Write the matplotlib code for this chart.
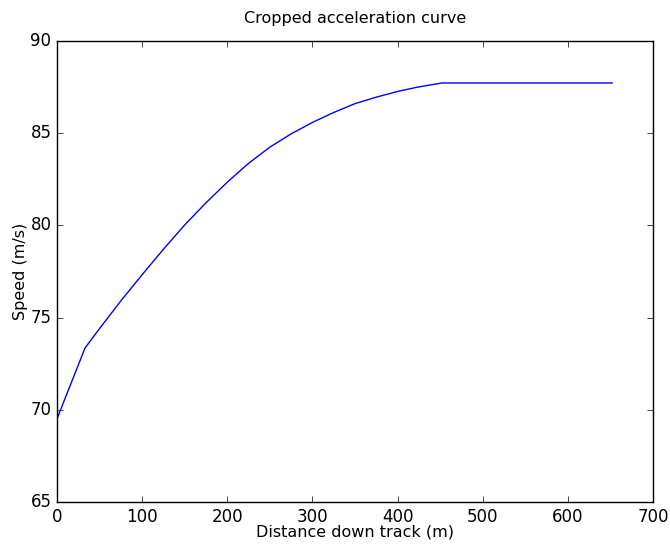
import numpy as np
import matplotlib
matplotlib.use('Agg')
import matplotlib.pyplot as plt

# distance down track (m) and speed (m/s)
distance = [0, 33, 50, 76, 100, 125, 150, 175, 200, 225, 250, 275,
            300, 325, 350, 375, 400, 423, 452, 652]
speed = [69.5, 73.35, 74.40, 75.96, 77.32, 78.70, 80.02, 81.22, 82.34, 83.36, 84.24, 84.96,
         85.58, 86.12, 86.60, 86.95, 87.26, 87.49, 87.72, 87.72]

plt.style.use('classic')

fig = plt.figure(figsize=(6.7, 5.45), dpi=100)
ax = fig.add_axes([0.085, 0.079, 0.8896, 0.8459])

ax.plot(distance, speed, color='b', linewidth=1)

ax.set_xlim(0, 700)
ax.set_ylim(65, 90)
ax.set_xticks(np.arange(0, 701, 100))
ax.set_yticks(np.arange(65, 91, 5))
ax.tick_params(labelsize=12)

ax.set_title('Cropped acceleration curve', fontsize=11.5, pad=13)
ax.set_xlabel('Distance down track (m)', fontsize=11.5, labelpad=-1)
ax.set_ylabel('Speed (m/s)', fontsize=11.5, labelpad=2)

fig.savefig('out.png', dpi=100, facecolor='white')
